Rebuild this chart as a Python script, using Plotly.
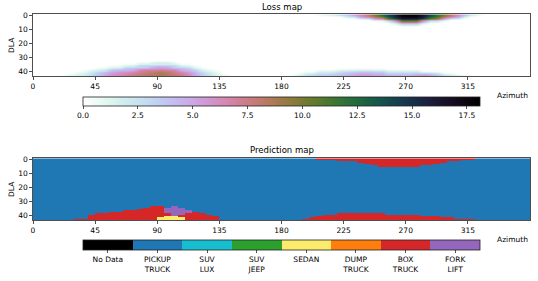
import numpy as np
import plotly.graph_objects as go

# ---------------- data (5-degree azimuth bins) ----------------
AZ_BIN = 5
N_BINS = 72
N_ROWS = 44  # DLA 0..43
az_centers = np.arange(AZ_BIN / 2, 360, AZ_BIN)
dla_rows = np.arange(N_ROWS)

# Loss map: top hump (rows from DLA 0 down) : depth in rows and peak loss at DLA 0
top_loss_depth = [0]*41 + [1, 1, 2, 2, 3, 3, 4, 4, 5, 5, 6, 7, 8, 8, 8, 7, 6, 6, 5, 4, 4, 3, 2, 1] + [0]*7
top_loss_peak = [0]*41 + [0.5, 1.0, 1.5, 2.5, 3.5, 5.0, 6.5, 8.0, 10.0, 12.0, 14.0, 16.0, 18.0, 18.1,
                          18.0, 16.5, 14.0, 12.0, 10.0, 8.0, 6.0, 4.0, 2.0, 0.8] + [0]*7
# Loss map: bottom region : first non-zero DLA row and peak loss at bottom row
bottom_loss_edge = ([44]*4 + [42, 41, 40, 39, 38, 37, 37, 36, 36, 35, 35, 34, 34, 33, 33, 33, 34, 35, 35,
                              36, 37, 38, 39, 41, 42] + [44]*8 +
                    [42, 41, 40, 40, 39, 39, 39, 38, 38, 38, 38, 38, 38, 38, 39, 39, 39, 39, 39, 40, 40,
                     40, 41, 41, 42, 42, 43] + [44]*8)
bottom_loss_peak = ([0]*4 + [0.5, 1.0, 1.5, 2.0, 3.0, 4.0, 5.0, 6.0, 6.5, 7.0, 7.5, 8.0, 8.5, 8.5, 9.0, 8.5,
                             8.0, 7.5, 6.5, 5.0, 3.5, 2.5, 1.5, 0.8, 0.3] + [0]*8 +
                    [0.5, 1.5, 2.5, 3.0, 3.5, 3.5, 4.0, 4.0, 4.5, 5.0, 5.5, 5.5, 5.0, 5.0, 4.5, 4.5, 4.5,
                     4.5, 5.0, 5.5, 5.0, 4.0, 3.0, 2.0, 1.5, 1.0, 0.5] + [0]*8)
# vertical fade of the loss away from the map edge
FADE = [1.0, 0.97, 0.9, 0.78, 0.6, 0.4, 0.2, 0.08]
LOSS_MAX = 18.1
loss_ticks = [0.0, 2.5, 5.0, 7.5, 10.0, 12.5, 15.0, 17.5]

# Prediction map
categories = ["No Data", "PICKUP<br>TRUCK", "SUV<br>LUX", "SUV<br>JEEP", "SEDAN",
              "DUMP<br>TRUCK", "BOX<br>TRUCK", "FORK<br>LIFT"]
cat_colors = ["#000000", "#1f77b4", "#17becf", "#2ca02c", "#fbec6b", "#ff7f0e", "#d62728", "#9467bd"]
BACKGROUND_CLASS = 1   # PICKUP TRUCK
BOX_CLASS = 6
FORK_CLASS = 7
SEDAN_CLASS = 4
top_red_depth = [0]*41 + [1, 1, 1, 2, 2, 2, 3, 4, 5, 6, 6, 6, 6, 6, 6, 5, 5, 4, 3, 2, 2, 1, 1] + [0]*8
bottom_red_top = ([44]*6 + [43, 43, 40, 39, 39, 38, 38, 37, 37, 36, 35, 34, 34, 35, 36, 37, 37, 38, 39,
                            40, 41] + [44]*12 +
                  [43, 42, 41, 40, 40, 39, 39, 39, 39, 39, 39, 39, 40, 40, 40, 40, 40, 41, 41, 41, 42,
                   42, 43, 43, 43] + [44]*8)
purple_bins = [19, 20, 21, 22]
purple_top = [35, 34, 35, 37]
purple_bottom = [38, 40, 39, 38]
yellow_bins = [18, 19, 20, 21]
yellow_top = [42, 41, 41, 42]

# ---------------- build grids ----------------
def fade_index(k, d):
    return 0 if d <= 1 else int(round(k * (len(FADE) - 1) / (d - 1)))

loss = np.zeros((N_ROWS, N_BINS))
for i in range(N_BINS):
    d = top_loss_depth[i]
    for k in range(d):
        loss[k, i] = top_loss_peak[i] * FADE[fade_index(k, d)]
    d = N_ROWS - bottom_loss_edge[i]
    for k in range(max(d, 0)):
        loss[N_ROWS - 1 - k, i] = bottom_loss_peak[i] * FADE[fade_index(k, d)]

pred = np.full((N_ROWS, N_BINS), BACKGROUND_CLASS)
for i in range(N_BINS):
    pred[:top_red_depth[i], i] = BOX_CLASS
    pred[bottom_red_top[i]:, i] = BOX_CLASS
for b, t, bt in zip(purple_bins, purple_top, purple_bottom):
    pred[t:bt + 1, b] = FORK_CLASS
for b, t in zip(yellow_bins, yellow_top):
    pred[t:, b] = SEDAN_CLASS

# ---------------- colour scales ----------------
def cubehelix_r(x):
    x = 1 - x
    a = x * (1 - x) / 2
    phi = 2 * np.pi * (0.5 / 3 - 1.5 * x)
    r = x + a * (-0.14861 * np.cos(phi) + 1.78277 * np.sin(phi))
    g = x + a * (-0.29227 * np.cos(phi) - 0.90649 * np.sin(phi))
    b = x + a * (1.97294 * np.cos(phi))
    c = [int(round(255 * min(max(v, 0), 1))) for v in (r, g, b)]
    return f"rgb({c[0]},{c[1]},{c[2]})"

loss_cs = [[s, cubehelix_r(s)] for s in np.linspace(0, 1, 33)]
ncat = len(categories)
cat_cs = []
for j, c in enumerate(cat_colors):
    cat_cs += [[j / ncat, c], [(j + 1) / ncat, c]]

# ---------------- figure ----------------
W, H = 538, 281
FONT = "DejaVu Sans"
TICK = 7.5
px_x = lambda p: p / W
px_y = lambda p: 1 - p / H

cb_common = dict(orientation="h", x=px_x(281.5), xanchor="center", yanchor="top",
                 len=397, lenmode="pixels", xpad=0, ypad=0,
                 outlinewidth=0.8, outlinecolor="#222", ticks="outside", ticklen=3, tickwidth=0.8,
                 tickcolor="#222", tickfont=dict(size=TICK, family=FONT, color="black"))

fig = go.Figure()
fig.add_trace(go.Heatmap(
    x=az_centers, y=dla_rows, z=loss, zmin=0, zmax=LOSS_MAX, colorscale=loss_cs, zsmooth="best",
    xaxis="x", yaxis="y", hoverinfo="skip",
    colorbar=dict(y=px_y(97), thickness=9, tickvals=loss_ticks,
                  ticktext=[f"{v:.1f}" for v in loss_ticks], **cb_common)))
fig.add_trace(go.Heatmap(
    x=az_centers, y=dla_rows, z=pred, zmin=-0.5, zmax=ncat - 0.5, colorscale=cat_cs,
    xaxis="x2", yaxis="y2", hoverinfo="skip",
    colorbar=dict(y=px_y(240), thickness=10, tickvals=list(range(ncat)), ticktext=categories,
                  **cb_common)))

ax_common = dict(showline=True, mirror=True, linecolor="#222", linewidth=0.8, showgrid=False,
                 zeroline=False, ticks="outside", ticklen=3, tickwidth=0.8, tickcolor="#222",
                 automargin=False, tickfont=dict(size=TICK, family=FONT, color="black"))
xdom = [px_x(33), px_x(530)]
fig.update_layout(
    template="none",
    width=W, height=H, margin=dict(l=0, r=0, t=0, b=0, autoexpand=False),
    paper_bgcolor="white", plot_bgcolor="white",
    font=dict(family=FONT, color="black"),
    xaxis=dict(domain=xdom, range=[0, 360], tickvals=list(range(0, 360, 45)), anchor="y", **ax_common),
    yaxis=dict(domain=[px_y(76), px_y(14.3)], range=[N_ROWS - 0.5, -0.5], tickvals=[0, 10, 20, 30, 40],
               anchor="x", **ax_common),
    xaxis2=dict(domain=xdom, range=[0, 360], tickvals=list(range(0, 360, 45)), anchor="y2", **ax_common),
    yaxis2=dict(domain=[px_y(220), px_y(158.3)], range=[N_ROWS - 0.5, -0.5], tickvals=[0, 10, 20, 30, 40],
                anchor="x2", **ax_common),
    showlegend=False,
)

ann = []
for title, yc in [("Loss map", 7), ("Prediction map", 150)]:
    ann.append(dict(text=title, x=px_x(281.5), y=px_y(yc), xref="paper", yref="paper",
                    xanchor="center", yanchor="middle",
                    showarrow=False, font=dict(size=8.5, family=FONT)))
for yc in [95, 239]:
    ann.append(dict(text="Azimuth", x=px_x(530), y=px_y(yc), xref="paper", yref="paper",
                    xanchor="right", yanchor="middle", showarrow=False, font=dict(size=TICK, family=FONT)))
for yc in [45, 189]:
    ann.append(dict(text="DLA", x=px_x(11), y=px_y(yc), xref="paper", yref="paper", textangle=-90,
                    xanchor="center", yanchor="middle",
                    showarrow=False, font=dict(size=TICK, family=FONT)))
fig.update_layout(annotations=ann)

fig.write_html("out.html", config={"displayModeBar": False, "staticPlot": True},
               post_script="document.body.style.margin='0';document.body.style.overflow='hidden';")
